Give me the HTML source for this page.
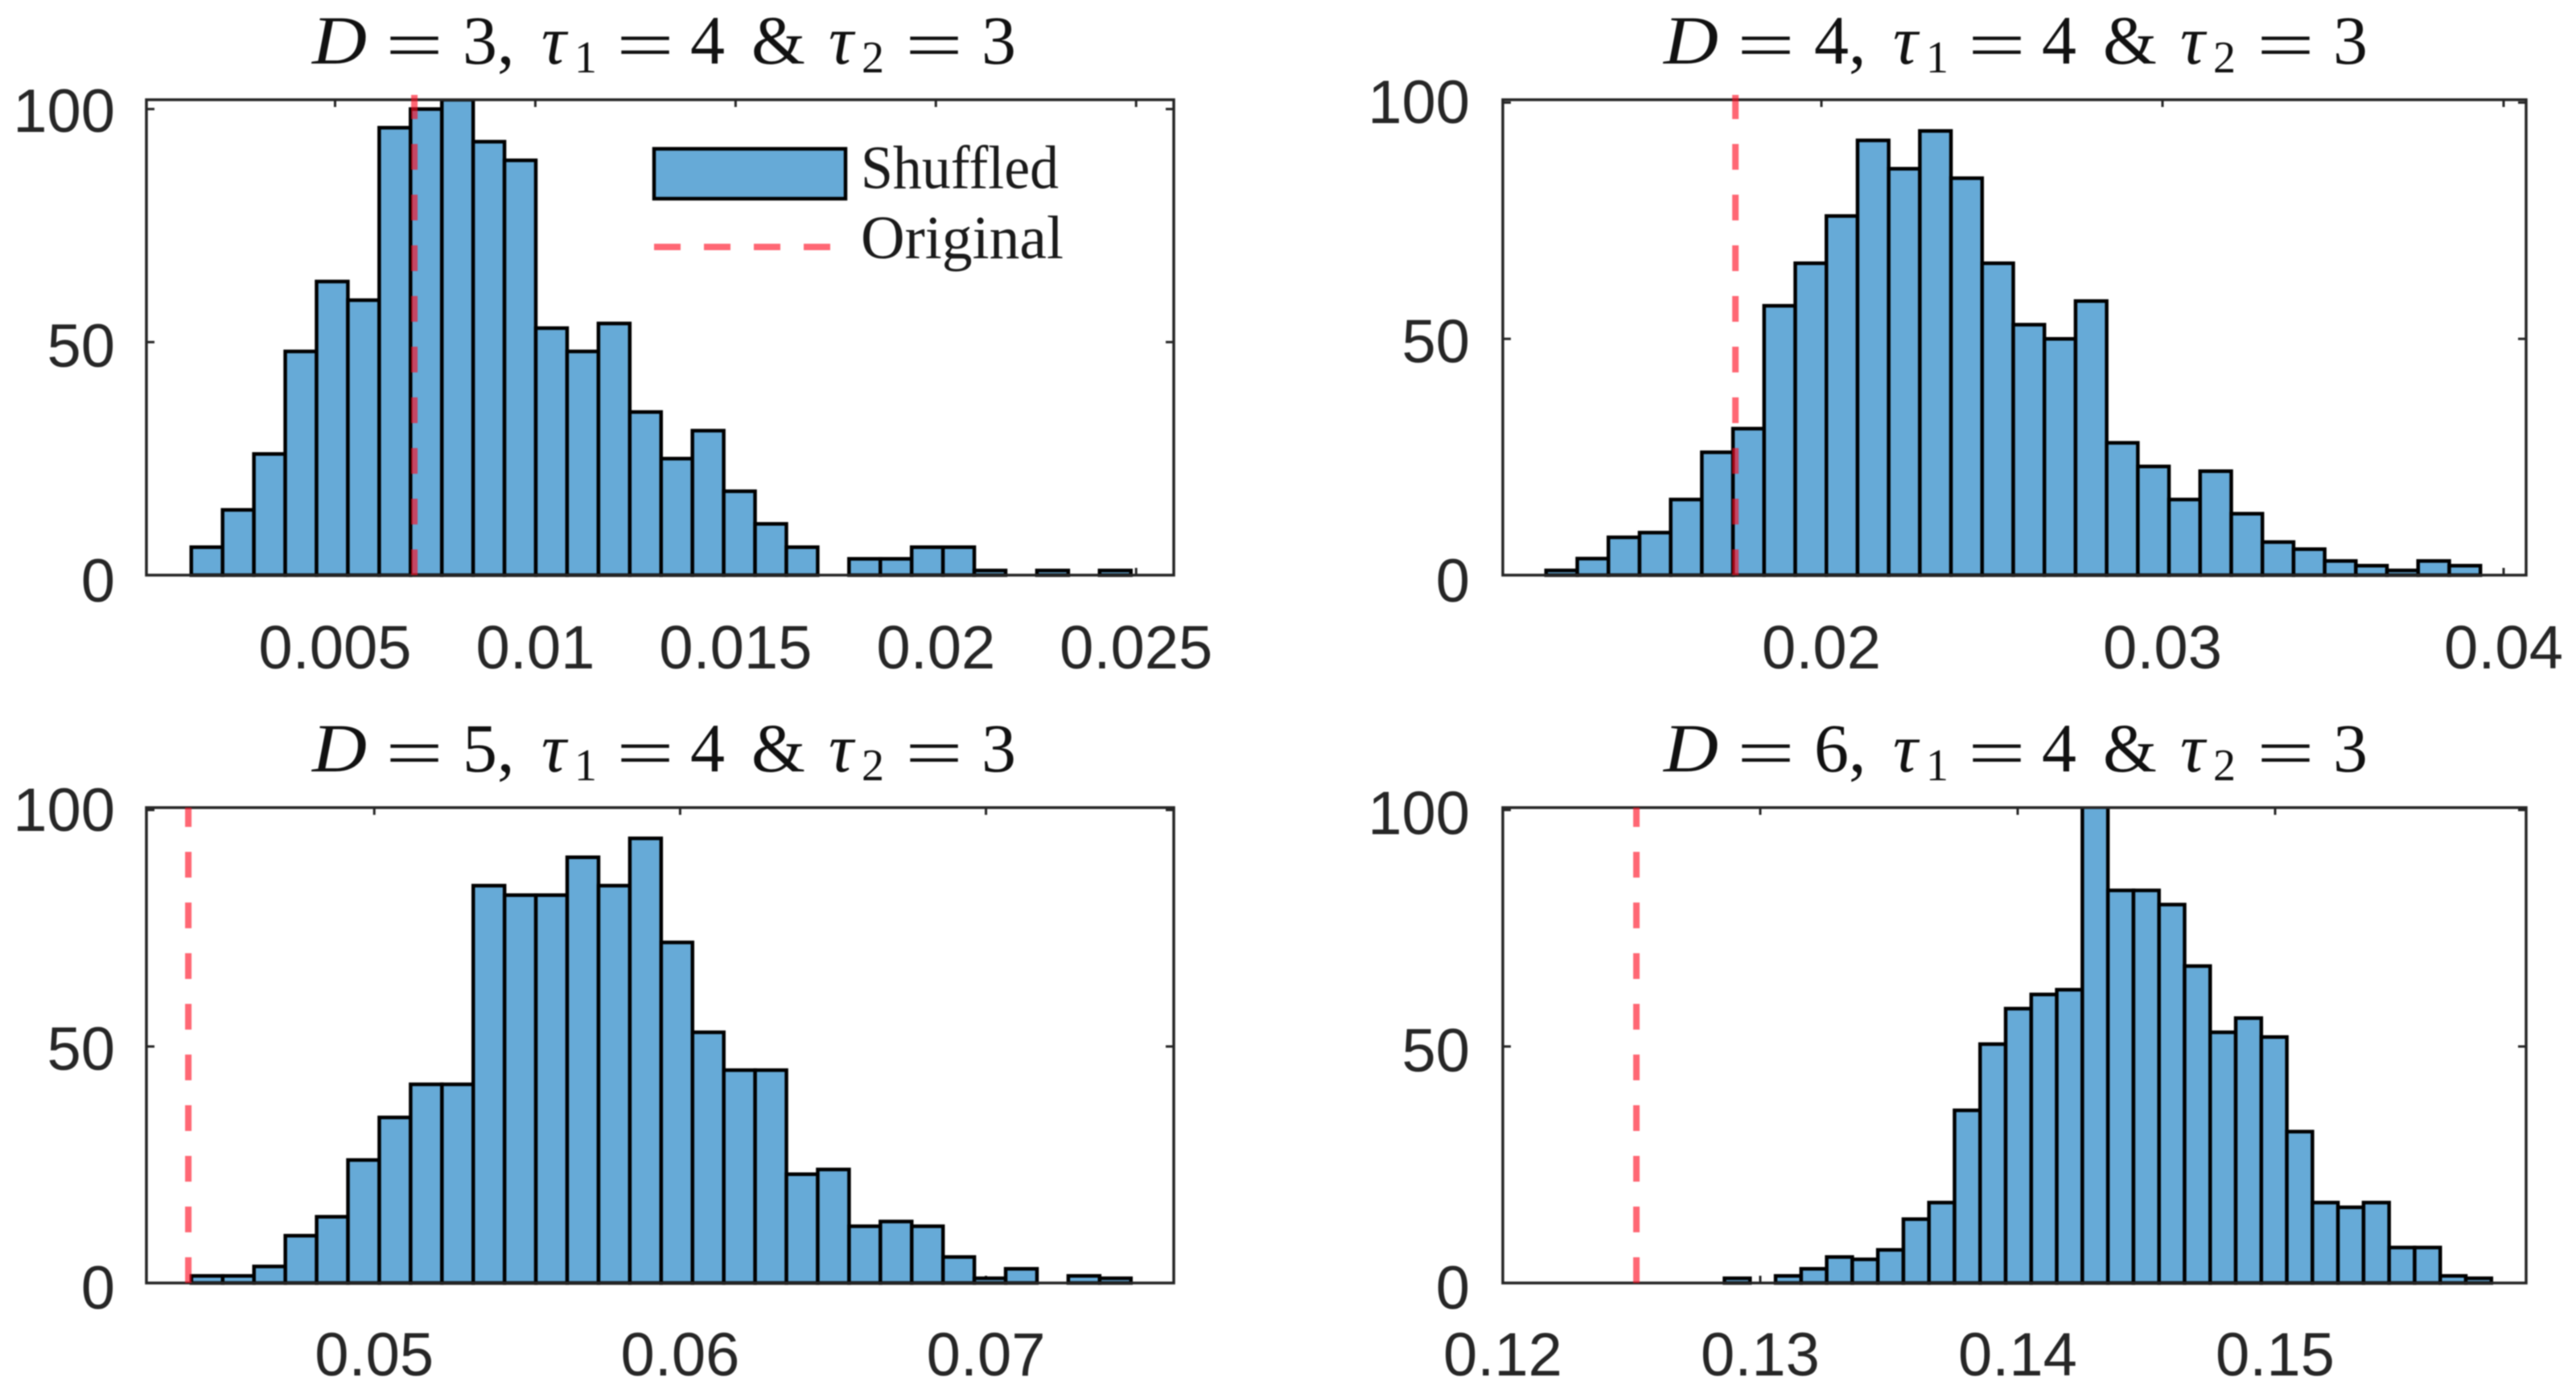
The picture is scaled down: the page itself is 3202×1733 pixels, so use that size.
<!DOCTYPE html>
<html>
<head>
<meta charset="utf-8">
<title>Histograms of shuffled and original values</title>
<style>
html,body{margin:0;padding:0;background:#fff;width:3202px;height:1733px;overflow:hidden}
svg{display:block;filter:blur(0.8px)}
.ttl text{font-family:"Liberation Serif",serif;font-size:86px;fill:#111}
.ttl .i{font-style:italic}
.ttl .s{font-size:56px}
.lg{font-family:"Liberation Serif",serif;font-size:76px;fill:#1a1a1a}
.tk{font-family:"Liberation Sans",sans-serif;font-size:76px;fill:#262626}
</style>
</head>
<body>
<svg id="chart" xmlns="http://www.w3.org/2000/svg" width="3202" height="1733" viewBox="0 0 3202 1733">
<rect width="3202" height="1733" fill="#fff"/>
<g id="panels"></g>

<g class="ttl" transform="translate(388,79)">
<text class="i" x="0" y="0" textLength="68" lengthAdjust="spacingAndGlyphs">D</text>
<text x="91" y="6" textLength="72" lengthAdjust="spacingAndGlyphs">=</text><text x="187" y="0">3,</text>
<text class="i" x="285" y="0">τ</text><text class="s" x="326" y="11">1</text>
<text x="378" y="6" textLength="72" lengthAdjust="spacingAndGlyphs">=</text><text x="470" y="0">4</text>
<text x="546" y="0">&amp;</text>
<text class="i" x="642" y="0">τ</text><text class="s" x="683" y="11">2</text>
<text x="737" y="6" textLength="72" lengthAdjust="spacingAndGlyphs">=</text><text x="832" y="0">3</text>
</g>
<g class="ttl" transform="translate(2068,79)">
<text class="i" x="0" y="0" textLength="68" lengthAdjust="spacingAndGlyphs">D</text>
<text x="91" y="6" textLength="72" lengthAdjust="spacingAndGlyphs">=</text><text x="187" y="0">4,</text>
<text class="i" x="285" y="0">τ</text><text class="s" x="326" y="11">1</text>
<text x="378" y="6" textLength="72" lengthAdjust="spacingAndGlyphs">=</text><text x="470" y="0">4</text>
<text x="546" y="0">&amp;</text>
<text class="i" x="642" y="0">τ</text><text class="s" x="683" y="11">2</text>
<text x="737" y="6" textLength="72" lengthAdjust="spacingAndGlyphs">=</text><text x="832" y="0">3</text>
</g>
<g class="ttl" transform="translate(388,959)">
<text class="i" x="0" y="0" textLength="68" lengthAdjust="spacingAndGlyphs">D</text>
<text x="91" y="6" textLength="72" lengthAdjust="spacingAndGlyphs">=</text><text x="187" y="0">5,</text>
<text class="i" x="285" y="0">τ</text><text class="s" x="326" y="11">1</text>
<text x="378" y="6" textLength="72" lengthAdjust="spacingAndGlyphs">=</text><text x="470" y="0">4</text>
<text x="546" y="0">&amp;</text>
<text class="i" x="642" y="0">τ</text><text class="s" x="683" y="11">2</text>
<text x="737" y="6" textLength="72" lengthAdjust="spacingAndGlyphs">=</text><text x="832" y="0">3</text>
</g>
<g class="ttl" transform="translate(2068,959)">
<text class="i" x="0" y="0" textLength="68" lengthAdjust="spacingAndGlyphs">D</text>
<text x="91" y="6" textLength="72" lengthAdjust="spacingAndGlyphs">=</text><text x="187" y="0">6,</text>
<text class="i" x="285" y="0">τ</text><text class="s" x="326" y="11">1</text>
<text x="378" y="6" textLength="72" lengthAdjust="spacingAndGlyphs">=</text><text x="470" y="0">4</text>
<text x="546" y="0">&amp;</text>
<text class="i" x="642" y="0">τ</text><text class="s" x="683" y="11">2</text>
<text x="737" y="6" textLength="72" lengthAdjust="spacingAndGlyphs">=</text><text x="832" y="0">3</text>
</g>

<g>
<rect x="813" y="185" width="238" height="62" fill="#66aad7" stroke="#000" stroke-width="4.5"/>
<text class="lg" x="1070" y="234" textLength="246" lengthAdjust="spacingAndGlyphs">Shuffled</text>
<line x1="813" y1="307" x2="1035" y2="307" stroke="rgba(255,10,30,.62)" stroke-width="8" stroke-dasharray="33 29"/>
<text class="lg" x="1070" y="321" textLength="252" lengthAdjust="spacingAndGlyphs">Original</text>
</g>
</svg>

<script>
// Histogram counts
const countsD3 = [6,14,26,48,63,59,96,100,102,93,89,53,48,54,35,25,31,18,11,6,0,3.5,3.5,6,6,1,0,1,0,1];
const countsD4 = [1,3.5,8,9,16,26,31,57,66,76,92,86,94,84,66,53,50,58,28,23,16,22,13,7,5.5,3,2,1,3,2];
const countsD5 = [1.5,1.5,3.5,10,14,26,35,42,42,84,82,82,90,84,94,72,53,45,45,23,24,12,13,12,5.5,1,3,0,1.5,1];
const countsD6 = [1,0,1.5,3,5.5,5,7,13.5,17,36.5,50.5,58,61,62,102,83,83,80,67,53,56,52,32,17,16,17,7.5,7.5,1.5,1];
// Bin origin and width in data units
const binStarts = [0.00141,0.01193,0.04402,0.12861];
const binWidths = [0.000782,0.000913,0.001024,0.000993];
// Original (red dashed) values
const originalValues = [0.00698,0.01748,0.04392,0.12519];
// Axis limits
const xMins = [0.00029,0.01066,0.04255,0.12];
const xMaxs = [0.02594,0.04066,0.07614,0.15975];
const yMaxs = [102,100.6,100.5,100.5];
// Tick values and labels
const xTicksD3 = [0.005,0.01,0.015,0.02,0.025];
const xTicksD4 = [0.02,0.03,0.04];
const xTicksD5 = [0.05,0.06,0.07];
const xTicksD6 = [0.12,0.13,0.14,0.15];
const xTickLabelsD3 = ['0.005','0.01','0.015','0.02','0.025'];
const xTickLabelsD4 = ['0.02','0.03','0.04'];
const xTickLabelsD5 = ['0.05','0.06','0.07'];
const xTickLabelsD6 = ['0.12','0.13','0.14','0.15'];
const yTicks = [0,50,100];
const yTickLabels = ['0','50','100'];

const allCounts = [countsD3,countsD4,countsD5,countsD6];
const allXTicks = [xTicksD3,xTicksD4,xTicksD5,xTicksD6];
const allXLabels = [xTickLabelsD3,xTickLabelsD4,xTickLabelsD5,xTickLabelsD6];
const panelNames = ['d3','d4','d5','d6'];

// Pixel layout of each axes
const frames = [
  {l:182,r:1459,t:124,b:715,lblX:143,lblTop:137,lblBot:721,xBase:831,redTop:118},
  {l:1868,r:3140,t:124,b:715,lblX:1827,lblTop:126,lblBot:721,xBase:831,redTop:118},
  {l:182,r:1459,t:1004,b:1595,lblX:143,lblTop:1006,lblBot:1600,xBase:1710,redTop:1004},
  {l:1868,r:3140,t:1004,b:1595,lblX:1827,lblTop:1010,lblBot:1600,xBase:1710,redTop:1004}
];

const NS = 'http://www.w3.org/2000/svg';
const root = document.getElementById('panels');

function make(tag, parent, attrs){
  const e = document.createElementNS(NS, tag);
  for (const k in attrs) e.setAttribute(k, attrs[k]);
  parent.appendChild(e);
  return e;
}
function xScale(p, v){
  const f = frames[p];
  return f.l + (v - xMins[p]) / (xMaxs[p] - xMins[p]) * (f.r - f.l);
}
function yScale(p, v){
  const f = frames[p];
  return f.b - v / yMaxs[p] * (f.b - f.t);
}
function yLabelCenter(p, v){
  const f = frames[p];
  return f.lblBot + v / 100 * (f.lblTop - f.lblBot);
}

frames.forEach(function(f, p){
  const g = make('g', root, {});
  
  

  const clip = make('clipPath', g, {id: 'clip' + p});
  make('rect', clip, {x: f.l, y: f.t, width: f.r - f.l, height: f.b - f.t + 3});

  // ticks (below the bars)
  allXTicks[p].forEach(function(v){
    const x = xScale(p, v);
    const tb = make('line', g, {x1: x, x2: x, y1: f.b, y2: f.b - 9, stroke: '#262626', 'stroke-width': 3});
    
    
    const tt = make('line', g, {x1: x, x2: x, y1: f.t, y2: f.t + 9, stroke: '#262626', 'stroke-width': 3});
    
    
  });
  yTicks.forEach(function(v){
    const y = yScale(p, v);
    const tl = make('line', g, {x1: f.l, x2: f.l + 10, y1: y, y2: y, stroke: '#262626', 'stroke-width': 3});
    
    
    const tr = make('line', g, {x1: f.r, x2: f.r - 10, y1: y, y2: y, stroke: '#262626', 'stroke-width': 3});
    
    
  });

  // bars
  const bars = make('g', g, {'clip-path': 'url(#clip' + p + ')'});
  
  
  allCounts[p].forEach(function(c, i){
    if (c <= 0) return;
    const x0 = xScale(p, binStarts[p] + i * binWidths[p]);
    const x1 = xScale(p, binStarts[p] + (i + 1) * binWidths[p]);
    const y = yScale(p, c);
    const bar = make('rect', bars, {x: x0, y: y, width: x1 - x0, height: f.b - y, fill: '#66aad7', stroke: '#000', 'stroke-width': 4.5});
    
    
  });

  // axes box
  const box = make('rect', g, {x: f.l, y: f.t, width: f.r - f.l, height: f.b - f.t, fill: 'none', stroke: '#262626', 'stroke-width': 3.5});
  
  

  // original value line, dashed from the baseline up
  const rx = xScale(p, originalValues[p]);
  const red = make('line', g, {x1: rx, x2: rx, y1: f.b, y2: f.redTop, stroke: 'rgba(255,10,30,.62)', 'stroke-width': 8, 'stroke-dasharray': '32 31'});
  
  

  // tick labels
  allXTicks[p].forEach(function(v, i){
    const t = make('text', g, {x: xScale(p, v), y: f.xBase, 'text-anchor': 'middle', class: 'tk'});
    t.textContent = allXLabels[p][i];
    
    
  });
  yTicks.forEach(function(v, i){
    const t = make('text', g, {x: f.lblX, y: yLabelCenter(p, v) + 27, 'text-anchor': 'end', class: 'tk'});
    t.textContent = yTickLabels[i];
    
    
  });
});
</script>
</body>
</html>
